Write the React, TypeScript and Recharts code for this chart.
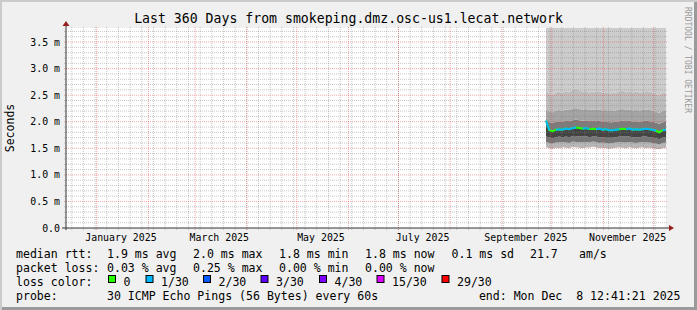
import React from "react";
import {
  Area,
  CartesianGrid,
  ComposedChart,
  Line,
  ReferenceDot,
  ReferenceLine,
  XAxis,
  YAxis,
} from "recharts";

const MONO = '"DejaVu Sans Mono", monospace';

// x = days since window start (Dec 13 2024 12:41), window is 360 days
const days = [
  288, 290, 292, 294, 296, 298, 300, 302, 304, 306, 308, 310, 312, 314, 316, 318, 320, 322, 324,
  326, 328, 330, 332, 334, 336, 338, 340, 342, 344, 346, 348, 350, 352, 354, 356, 358, 360,
];

// median rtt in ms
const median = [
  2.02, 1.84, 1.82, 1.85, 1.86, 1.85, 1.87, 1.86, 1.88, 1.89, 1.88, 1.87, 1.88, 1.86, 1.87, 1.86,
  1.87, 1.85, 1.86, 1.84, 1.84, 1.85, 1.86, 1.87, 1.86, 1.87, 1.85, 1.86, 1.85, 1.86, 1.87, 1.86,
  1.85, 1.83, 1.8, 1.84, 1.85,
];

// lost pings out of 30
const loss = [
  1, 0, 0, 1, 1, 0, 1, 1, 1, 0, 0, 1, 1, 0, 0, 1, 1, 1, 0, 1, 1, 1, 0, 0, 1, 1, 0, 1, 1, 1, 0, 1,
  1, 0, 0, 1, 1,
];

// smoke band edges (ms)
const smokeLo = [
  1.52, 1.5, 1.49, 1.51, 1.5, 1.52, 1.51, 1.5, 1.53, 1.52, 1.51, 1.5, 1.52, 1.51, 1.53, 1.52, 1.5,
  1.51, 1.5, 1.49, 1.5, 1.51, 1.52, 1.51, 1.5, 1.52, 1.51, 1.5, 1.51, 1.52, 1.5, 1.51, 1.5, 1.49,
  1.48, 1.5, 1.51,
];
const smokeL1 = [
  1.62, 1.6, 1.59, 1.61, 1.61, 1.62, 1.61, 1.6, 1.63, 1.62, 1.62, 1.61, 1.62, 1.61, 1.63, 1.62, 1.6,
  1.61, 1.6, 1.59, 1.6, 1.61, 1.62, 1.61, 1.61, 1.62, 1.61, 1.6, 1.61, 1.62, 1.61, 1.61, 1.6, 1.59,
  1.57, 1.6, 1.61,
];
const smokeL2 = [
  1.72, 1.71, 1.69, 1.71, 1.72, 1.71, 1.72, 1.71, 1.73, 1.73, 1.72, 1.72, 1.73, 1.71, 1.72, 1.72,
  1.71, 1.71, 1.7, 1.7, 1.7, 1.71, 1.72, 1.72, 1.72, 1.72, 1.71, 1.71, 1.71, 1.72, 1.72, 1.71, 1.7,
  1.69, 1.67, 1.7, 1.71,
];
const smokeH1 = [
  2.06, 1.99, 1.98, 2.0, 2.01, 2.0, 2.02, 2.01, 2.03, 2.04, 2.03, 2.02, 2.03, 2.01, 2.02, 2.01, 2.02,
  2.0, 2.01, 1.99, 1.99, 2.0, 2.01, 2.02, 2.01, 2.02, 2.0, 2.01, 2.0, 2.01, 2.02, 2.01, 2.0, 1.98,
  1.96, 1.99, 2.0,
];
const smokeH2 = [
  2.24, 2.19, 2.18, 2.21, 2.22, 2.2, 2.23, 2.22, 2.25, 2.26, 2.24, 2.23, 2.24, 2.22, 2.23, 2.22,
  2.23, 2.21, 2.22, 2.2, 2.2, 2.21, 2.23, 2.24, 2.22, 2.23, 2.21, 2.22, 2.21, 2.22, 2.23, 2.22, 2.21,
  2.19, 2.17, 2.2, 2.21,
];
const smokeH3 = [
  2.6, 2.52, 2.5, 2.55, 2.57, 2.54, 2.58, 2.56, 2.6, 2.62, 2.59, 2.57, 2.58, 2.55, 2.57, 2.56, 2.58,
  2.55, 2.56, 2.53, 2.54, 2.55, 2.57, 2.59, 2.56, 2.58, 2.55, 2.57, 2.55, 2.56, 2.58, 2.57, 2.55,
  2.52, 2.5, 2.54, 2.55,
];
const smokeTop = [
  4.5, 4.3, 4.2, 4.4, 4.3, 4.5, 4.4, 4.2, 4.6, 4.5, 4.3, 4.4, 4.2, 4.3, 4.5, 4.4, 4.3, 4.2, 4.4, 4.5,
  4.3, 4.2, 4.4, 4.6, 4.3, 4.4, 4.5, 4.2, 4.3, 4.4, 4.5, 4.3, 4.2, 4.4, 4.3, 4.5, 4.4,
];

const monthStarts = [
  18.47, 49.47, 77.47, 108.47, 138.47, 169.47, 199.47, 230.47, 261.47, 291.47, 322.47, 352.47,
];
const weekLines = Array.from({ length: 51 }, (_, i) => 3.47 + 7 * i);
const xLabelDays = [32.97, 91.97, 152.97, 213.97, 275.97, 336.97];
const xLabels = [
  "January 2025",
  "March 2025",
  "May 2025",
  "July 2025",
  "September 2025",
  "November 2025",
];
const yTicks = [0, 0.5, 1, 1.5, 2, 2.5, 3, 3.5];
const yLabels = ["0.0", "0.5 m", "1.0 m", "1.5 m", "2.0 m", "2.5 m", "3.0 m", "3.5 m"];
const minorY = Array.from({ length: 37 }, (_, i) => Math.round((i + 1) * 10) / 100)
  .filter((v) => Math.round(v * 100) % 50 !== 0);

const Y_MAX = 3.764;

const rows = days.map((day, i) => ({
  day,
  lo: smokeLo[i],
  l1: smokeL1[i],
  l2: smokeL2[i],
  med: median[i],
  h1: smokeH1[i],
  h2: smokeH2[i],
  h3: smokeH3[i],
  top: smokeTop[i],
  cyan: loss[i] === 1 || loss[i - 1] === 1 ? median[i] : null,
}));

const bands: [string, string, string][] = [
  ["lo", "l1", "#b6b6b6"],
  ["l1", "l2", "#767676"],
  ["l2", "med", "#444444"],
  ["med", "h1", "#7c7c7c"],
  ["h1", "h2", "#a4a4a4"],
  ["h2", "h3", "#bdbdbd"],
  ["h3", "top", "#cccccc"],
];

const legendRows = [
  { y: 258.3, items: [[16, "median rtt:"], [107, "1.9 ms avg"], [193, "2.0 ms max"], [279, "1.8 ms min"], [365, "1.8 ms now"], [451.5, "0.1 ms sd"], [530, "21.7"], [579, "am/s"]] },
  { y: 272.3, items: [[16, "packet loss:"], [107, "0.03 % avg"], [193, "0.25 % max"], [279, "0.00 % min"], [365, "0.00 % now"]] },
  { y: 285.7, items: [[16, "loss color:"]] },
  { y: 299.7, items: [[16, "probe:"], [107, "30 ICMP Echo Pings (56 Bytes) every 60s"]] },
];

const lossLabels = ["0", "1/30", "2/30", "3/30", "4/30", "15/30", "29/30"];
const lossColors = ["#26ff00", "#00b8ff", "#0059ff", "#5e00ff", "#7e00ff", "#dd00ff", "#ff0000"];
const lossBoxX = [108.5, 146, 203.5, 261, 319.5, 377, 442];

const GRID = "rgba(128,128,128,0.45)";
const MGRID = "rgba(230,60,60,0.45)";
const ARROW = "#961e1e";
const AXIS = "#333333";

export default function App() {
  return (
    <div
      style={{
        position: "absolute",
        left: 0,
        top: 0,
        width: 697,
        height: 310,
        background: "#f0f0f0",
        overflow: "hidden",
      }}
    >
      <ComposedChart
        width={697}
        height={310}
        data={rows}
        margin={{ top: 28, right: 31, bottom: 62, left: 0 }}
      >
        <CartesianGrid horizontal={false} vertical={false} fill="#ffffff" />
        <XAxis
          type="number"
          dataKey="day"
          domain={[0, 360]}
          allowDataOverflow
          ticks={xLabelDays}
          interval={0}
          tickFormatter={(v) => xLabels[xLabelDays.indexOf(v)]}
          tick={{ fontFamily: MONO, fontSize: 9.9, fill: "#000" }}
          tickLine={false}
          axisLine={false}
          tickSize={3}
          tickMargin={3}
          height={20}
        />
        <YAxis
          type="number"
          domain={[0, Y_MAX]}
          allowDataOverflow
          ticks={yTicks}
          interval={0}
          tickFormatter={(v) => yLabels[yTicks.indexOf(v)]}
          tick={{ fontFamily: MONO, fontSize: 9.9, fill: "#000" }}
          tickLine={false}
          axisLine={false}
          tickSize={3}
          tickMargin={3}
          width={66}
        />
        {bands.map(([a, b, c]) => (
          <Area
            key={a + b}
            type="linear"
            dataKey={(d: any) => [d[a], d[b]]}
            fill={c}
            fillOpacity={1}
            stroke="none"
            isAnimationActive={false}
          />
        ))}
        {minorY.map((v) => (
          <ReferenceLine
            key={"my" + v}
            segment={[{ x: -1.2, y: v }, { x: 361.2, y: v }]}
            stroke={GRID}
            strokeDasharray="1 1"
            ifOverflow="visible"
          />
        ))}
        {weekLines.map((d) => (
          <ReferenceLine
            key={"w" + d}
            segment={[{ x: d, y: -0.038 }, { x: d, y: Y_MAX + 0.038 }]}
            stroke={GRID}
            strokeDasharray="1 1"
            ifOverflow="visible"
          />
        ))}
        {yTicks.slice(1).map((v) => (
          <ReferenceLine
            key={"My" + v}
            segment={[{ x: -1.2, y: v }, { x: 361.2, y: v }]}
            stroke={MGRID}
            strokeDasharray="1 1"
            ifOverflow="visible"
          />
        ))}
        {monthStarts.map((d) => (
          <ReferenceLine
            key={"m" + d}
            segment={[{ x: d, y: -0.038 }, { x: d, y: Y_MAX + 0.038 }]}
            stroke={MGRID}
            strokeDasharray="1 1"
            ifOverflow="visible"
          />
        ))}
        <ReferenceLine
          segment={[{ x: -2.4, y: 0 }, { x: 363, y: 0 }]}
          stroke={AXIS}
          ifOverflow="visible"
        />
        <ReferenceLine
          segment={[{ x: 0, y: -0.04 }, { x: 0, y: 3.87 }]}
          stroke={AXIS}
          ifOverflow="visible"
        />
        <ReferenceDot
          x={0}
          y={3.895}
          ifOverflow="visible"
          shape={(p: any) => (
            <path
              d={`M${p.cx - 3.5},${p.cy + 5} L${p.cx},${p.cy} L${p.cx + 3.5},${p.cy + 5} Z`}
              fill={ARROW}
            />
          )}
        />
        <ReferenceDot
          x={364.8}
          y={0}
          ifOverflow="visible"
          shape={(p: any) => (
            <path
              d={`M${p.cx - 5},${p.cy - 3} L${p.cx},${p.cy} L${p.cx - 5},${p.cy + 3} Z`}
              fill={ARROW}
            />
          )}
        />
        <Line
          type="linear"
          dataKey="med"
          stroke="#26ff00"
          strokeWidth={2}
          dot={false}
          isAnimationActive={false}
        />
        <Line
          type="linear"
          dataKey="cyan"
          stroke="#00b8ff"
          strokeWidth={2}
          dot={false}
          connectNulls={false}
          isAnimationActive={false}
        />
      </ComposedChart>

      <svg
        width={697}
        height={310}
        style={{ position: "absolute", left: 0, top: 0, pointerEvents: "none" }}
        fontFamily={MONO}
      >
        <text x={348.5} y={23} fontSize={13.2} textAnchor="middle" fill="#000">
          Last 360 Days from smokeping.dmz.osc-us1.lecat.network
        </text>
        <text
          x={13.5}
          y={128}
          fontSize={11.5}
          textAnchor="middle"
          fill="#000"
          transform="rotate(-90, 13.5, 128)"
        >
          Seconds
        </text>
        <text
          x={685}
          y={60}
          fontSize={8}
          textAnchor="middle"
          fill="#9a9a9a"
          transform="rotate(90, 685, 60)"
        >
          RRDTOOL / TOBI OETIKER
        </text>
        {legendRows.map((r) =>
          r.items.map(([x, t]) => (
            <text
              key={r.y + "-" + x}
              x={x as number}
              y={r.y}
              fontSize={11.55}
              fill="#000"
              style={{ whiteSpace: "pre" }}
            >
              {t}
            </text>
          ))
        )}
        {lossLabels.map((l, i) => (
          <g key={l}>
            <rect
              x={lossBoxX[i]}
              y={275.5}
              width={7}
              height={7}
              fill={lossColors[i]}
              stroke="#000"
              strokeWidth={1}
            />
            <text x={lossBoxX[i] + 15} y={285.7} fontSize={11.55} fill="#000">
              {l}
            </text>
          </g>
        ))}
        <text
          x={680.5}
          y={299.7}
          fontSize={11.55}
          textAnchor="end"
          fill="#000"
          style={{ whiteSpace: "pre" }}
        >
          {"end: Mon Dec  8 12:41:21 2025"}
        </text>
      </svg>
      <div
        style={{
          position: "absolute",
          inset: 0,
          boxShadow: "inset 2px 2px 0 #cbcbcb, inset -3px -3px 0 #9a9a9a",
          pointerEvents: "none",
        }}
      />
    </div>
  );
}
